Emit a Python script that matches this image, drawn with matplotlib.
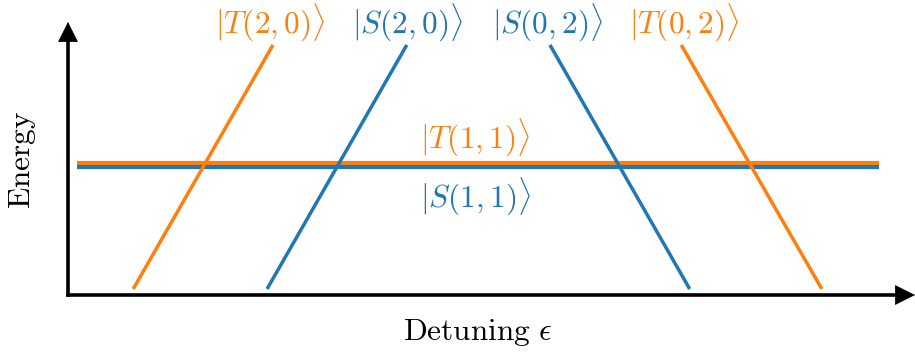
import matplotlib
matplotlib.use("Agg")
import matplotlib.pyplot as plt

plt.rcParams["mathtext.fontset"] = "cm"

# State energy curves vs detuning: (label, colour, eps endpoints, energy endpoints)
state_labels = [r"$|T(2,0)\rangle$", r"$|S(2,0)\rangle$", r"$|S(0,2)\rangle$", r"$|T(0,2)\rangle$"]
state_colors = ["#ff7f0e", "#1f77b4", "#1f77b4", "#ff7f0e"]
eps_start = [0.77, 2.35, 5.69, 8.90]
eps_end = [2.42, 4.00, 7.34, 7.24]
energy_start = [0.22, 0.22, 9.16, 0.22]
energy_end = [9.16, 9.16, 0.22, 9.16]

# Flat (1,1) charge-state levels
flat_labels = [r"$|T(1,1)\rangle$", r"$|S(1,1)\rangle$"]
flat_colors = ["#ff7f0e", "#1f77b4"]
flat_energy = [4.84, 4.69]
flat_eps = [0.11, 9.58]

FS = 22.5
W, H = 915, 356
fig = plt.figure(figsize=(W / 100, H / 100), dpi=100)
x0, x1, y0, y1 = 68, 915, 295, 22
ax = fig.add_axes([x0 / W, 1 - y0 / H, (x1 - x0) / W, (y0 - y1) / H])
ax.set_xlim(0, 10)
ax.set_ylim(0, 10)
ax.axis("off")

for lab, col, e in zip(flat_labels, flat_colors, flat_energy):
    ax.plot(flat_eps, [e, e], color=col, lw=3.0, solid_capstyle="butt", zorder=2)

for lab, col, xs, xe, ys, ye in zip(state_labels, state_colors, eps_start, eps_end,
                                     energy_start, energy_end):
    ax.plot([xs, xe], [ys, ye], color=col, lw=2.5, solid_capstyle="butt", zorder=3)

# Labels above the steep lines
top_label_x = [2.39, 4.01, 5.66, 7.27]
for lab, col, lx in zip(state_labels, state_colors, top_label_x):
    ax.text(lx, 10.0, lab, color=col, fontsize=FS, ha="center", va="center", clip_on=False)

ax.text(4.81, 5.79, flat_labels[0], color=flat_colors[0], fontsize=FS, ha="center", va="center")
ax.text(4.81, 3.63, flat_labels[1], color=flat_colors[1], fontsize=FS, ha="center", va="center")

# Arrowed axes, joined at a square corner; shafts run under the heads
ax.plot([0, 0], [0, 9.4], color="black", lw=2.6, solid_capstyle="projecting",
        clip_on=False, zorder=4)
ax.plot([0, 9.8], [0, 0], color="black", lw=2.6, solid_capstyle="projecting",
        clip_on=False, zorder=4)
head = dict(arrowstyle="-|>", color="black", lw=0.5, mutation_scale=34, shrinkA=0, shrinkB=0)
ax.annotate("", xy=(10.0, 0), xytext=(9.7, 0), arrowprops=head, annotation_clip=False)
ax.annotate("", xy=(0, 10.0), xytext=(0, 9.2), arrowprops=head, annotation_clip=False)

fig.text(22 / W, 1 - 160 / H, r"$\mathrm{Energy}$", rotation=90, fontsize=FS,
         ha="center", va="center")
fig.text(478 / W, 1 - 333 / H, r"$\mathrm{Detuning}\ \epsilon$", fontsize=FS,
         ha="center", va="center")

fig.savefig("out.png", dpi=100)
